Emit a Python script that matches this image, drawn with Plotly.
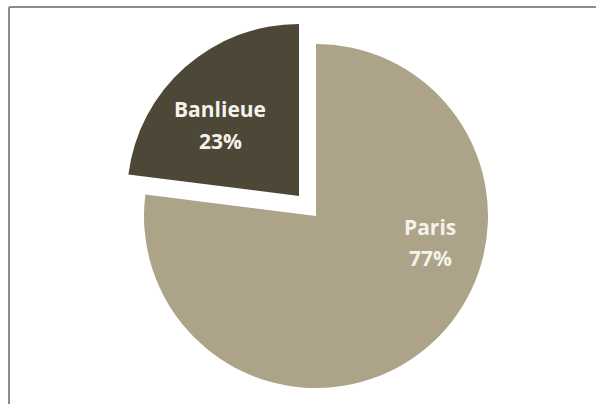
import plotly.graph_objects as go

# Share of the population by area
labels = ["Paris", "Banlieue"]
values = [77, 23]
colors = ["#ADA389", "#4D4737"]

total = sum(values)
pct = [f"{round(v / total * 100)}%" for v in values]

W, H = 596, 404
TRANSPARENT = "rgba(0,0,0,0)"

# Pie geometry in pixels: centre and radius of the main disc,
# plus the offset of the detached Banlieue slice
cx, cy, r = 316, 216, 172
pull_dx, pull_dy = -17, -20


def domain(ox, oy):
    return dict(
        x=[(cx + ox - r) / W, (cx + ox + r) / W],
        y=[1 - (cy + oy + r) / H, 1 - (cy + oy - r) / H],
    )


fig = go.Figure()

# Main disc: only the Paris slice is painted
fig.add_trace(go.Pie(
    labels=labels, values=values, sort=False, direction="clockwise",
    rotation=0, textinfo="none", hoverinfo="label+percent",
    marker=dict(colors=[colors[0], TRANSPARENT], line=dict(width=0)),
    domain=domain(0, 0), showlegend=False,
))

# Detached slice: only Banlieue is painted, shifted outward
fig.add_trace(go.Pie(
    labels=labels, values=values, sort=False, direction="clockwise",
    rotation=0, textinfo="none", hoverinfo="label+percent",
    marker=dict(colors=[TRANSPARENT, colors[1]], line=dict(width=0)),
    domain=domain(pull_dx, pull_dy), showlegend=False,
))

# Data labels (name on one line, percentage below)
label_pos = {"Banlieue": (220, 109, 141), "Paris": (430, 227, 258)}
font = dict(family="Open Sans", size=21, color="#F4F2EA")
annotations = []
for name, p in zip(labels, pct):
    x, y1, y2 = label_pos[name]
    for txt, yy in ((name, y1), (p, y2)):
        annotations.append(dict(
            x=x / W, y=1 - yy / H, xref="paper", yref="paper",
            text=f"<b>{txt}</b>", showarrow=False, font=font,
            xanchor="center", yanchor="middle",
        ))

# Frame around the chart area
frame = dict(color="#8C8C8C", width=2)
shapes = [
    dict(type="line", xref="paper", yref="paper",
         x0=9 / W, x1=1, y0=1 - 7 / H, y1=1 - 7 / H, line=frame),
    dict(type="line", xref="paper", yref="paper",
         x0=9 / W, x1=9 / W, y0=0, y1=1 - 7 / H, line=frame),
]

fig.update_layout(
    width=W, height=H,
    margin=dict(l=0, r=0, t=0, b=0),
    paper_bgcolor="white", plot_bgcolor="white",
    annotations=annotations, shapes=shapes,
)

fig.write_html("out.html")
